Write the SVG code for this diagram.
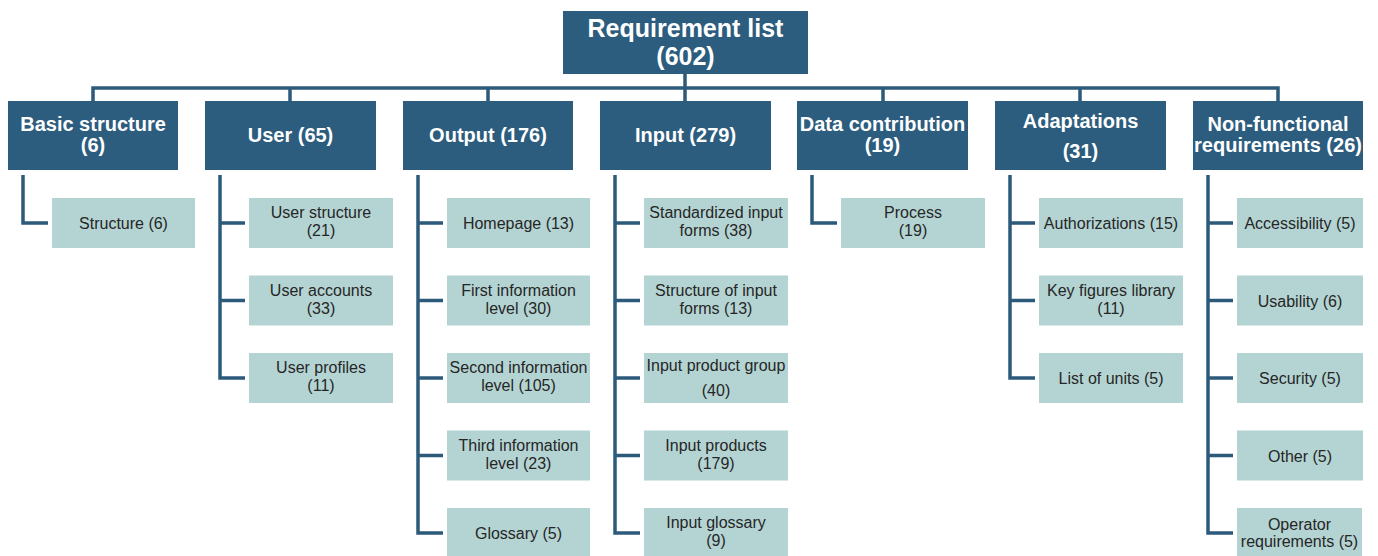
<svg xmlns="http://www.w3.org/2000/svg" width="1378" height="556" viewBox="0 0 1378 556">
<style>
.top{fill:#2c5c7e}
.sub{fill:#b4d4d3}
.t1{font-family:"Liberation Sans",Arial,sans-serif;font-weight:bold;fill:#ffffff;text-anchor:middle}
.t2{font-family:"Liberation Sans",Arial,sans-serif;font-size:16px;fill:#262626;text-anchor:middle}
.ln{stroke:#2c5a7a;stroke-width:3.5;fill:none}
</style>
<rect width="1378" height="556" fill="#ffffff"/>
<g id="connectors">
<path class="ln" d="M93 101V88H1278V101M290 88V101M488 88V101M685 74V101M883 88V101M1080 88V101"/>
<path class="ln" d="M23 175V223H48"/>
<path class="ln" d="M220 175V378H245M220 223H245M220 300.5H245"/>
<path class="ln" d="M418 175V533H443M418 223H443M418 300.5H443M418 378H443M418 455.5H443"/>
<path class="ln" d="M615 175V533H640M615 223H640M615 300.5H640M615 378H640M615 455.5H640"/>
<path class="ln" d="M812 175V223H837"/>
<path class="ln" d="M1010 175V378H1035M1010 223H1035M1010 300.5H1035"/>
<path class="ln" d="M1208 175V533H1233M1208 223H1233M1208 300.5H1233M1208 378H1233M1208 455.5H1233"/>
</g>
<g id="root"><rect class="top" x="563" y="11" width="245" height="63"/><text class="t1" font-size="25" x="685.5" y="36.5">Requirement list</text><text class="t1" font-size="25" x="685.5" y="64.5">(602)</text></g>
<g id="basic"><rect class="top" x="8" y="101" width="170" height="69"/><text class="t1" font-size="20" x="93" y="131">Basic structure</text><text class="t1" font-size="20" x="93" y="152">(6)</text></g>
<g id="user"><rect class="top" x="205" y="101" width="171" height="69"/><text class="t1" font-size="20" x="290.5" y="142">User (65)</text></g>
<g id="output"><rect class="top" x="403" y="101" width="170" height="69"/><text class="t1" font-size="20" x="488" y="142">Output (176)</text></g>
<g id="input"><rect class="top" x="600" y="101" width="171" height="69"/><text class="t1" font-size="20" x="685.5" y="142">Input (279)</text></g>
<g id="data"><rect class="top" x="797" y="101" width="171" height="69"/><text class="t1" font-size="20" x="882.5" y="131">Data contribution</text><text class="t1" font-size="20" x="882.5" y="152">(19)</text></g>
<g id="adapt"><rect class="top" x="995" y="101" width="171" height="69"/><text class="t1" font-size="20" x="1080.5" y="128">Adaptations</text><text class="t1" font-size="20" x="1080.5" y="158">(31)</text></g>
<g id="nonfunc"><rect class="top" x="1193" y="101" width="170" height="69"/><text class="t1" font-size="20" x="1278" y="131">Non-functional</text><text class="t1" font-size="20" x="1278" y="152">requirements (26)</text></g>

<g id="structure"><rect class="sub" x="52" y="198" width="143" height="50"/><text class="t2" x="123.5" y="229">Structure (6)</text></g>

<g id="userstructure"><rect class="sub" x="249" y="198" width="144" height="50"/><text class="t2" x="321" y="218">User structure</text><text class="t2" x="321" y="236">(21)</text></g>
<g id="useraccounts"><rect class="sub" x="249" y="275.5" width="144" height="50"/><text class="t2" x="321" y="295.5">User accounts</text><text class="t2" x="321" y="313.5">(33)</text></g>
<g id="userprofiles"><rect class="sub" x="249" y="353" width="144" height="50"/><text class="t2" x="321" y="373">User profiles</text><text class="t2" x="321" y="391">(11)</text></g>

<g id="homepage"><rect class="sub" x="447" y="198" width="143" height="50"/><text class="t2" x="518.5" y="229">Homepage (13)</text></g>
<g id="firstinfo"><rect class="sub" x="447" y="275.5" width="143" height="50"/><text class="t2" x="518.5" y="295.5">First information</text><text class="t2" x="518.5" y="313.5">level (30)</text></g>
<g id="secondinfo"><rect class="sub" x="447" y="353" width="143" height="50"/><text class="t2" x="518.5" y="373">Second information</text><text class="t2" x="518.5" y="391">level (105)</text></g>
<g id="thirdinfo"><rect class="sub" x="447" y="430.5" width="143" height="50"/><text class="t2" x="518.5" y="450.5">Third information</text><text class="t2" x="518.5" y="468.5">level (23)</text></g>
<g id="glossary"><rect class="sub" x="447" y="508" width="143" height="50"/><text class="t2" x="518.5" y="539">Glossary (5)</text></g>

<g id="stdforms"><rect class="sub" x="644" y="198" width="144" height="50"/><text class="t2" x="716" y="218">Standardized input</text><text class="t2" x="716" y="236">forms (38)</text></g>
<g id="structforms"><rect class="sub" x="644" y="275.5" width="144" height="50"/><text class="t2" x="716" y="295.5">Structure of input</text><text class="t2" x="716" y="313.5">forms (13)</text></g>
<g id="prodgroup"><rect class="sub" x="644" y="353" width="144" height="50"/><text class="t2" x="716" y="371">Input product group</text><text class="t2" x="716" y="396">(40)</text></g>
<g id="products"><rect class="sub" x="644" y="430.5" width="144" height="50"/><text class="t2" x="716" y="450.5">Input products</text><text class="t2" x="716" y="468.5">(179)</text></g>
<g id="inglossary"><rect class="sub" x="644" y="508" width="144" height="50"/><text class="t2" x="716" y="528">Input glossary</text><text class="t2" x="716" y="546">(9)</text></g>

<g id="process"><rect class="sub" x="841" y="198" width="144" height="50"/><text class="t2" x="913" y="218">Process</text><text class="t2" x="913" y="236">(19)</text></g>

<g id="auth"><rect class="sub" x="1039" y="198" width="144" height="50"/><text class="t2" x="1111" y="229">Authorizations (15)</text></g>
<g id="keyfig"><rect class="sub" x="1039" y="275.5" width="144" height="50"/><text class="t2" x="1111" y="295.5">Key figures library</text><text class="t2" x="1111" y="313.5">(11)</text></g>
<g id="units"><rect class="sub" x="1039" y="353" width="144" height="50"/><text class="t2" x="1111" y="384">List of units (5)</text></g>

<g id="access"><rect class="sub" x="1237" y="198" width="126" height="50"/><text class="t2" x="1300" y="229">Accessibility (5)</text></g>
<g id="usab"><rect class="sub" x="1237" y="275.5" width="126" height="50"/><text class="t2" x="1300" y="306.5">Usability (6)</text></g>
<g id="security"><rect class="sub" x="1237" y="353" width="126" height="50"/><text class="t2" x="1300" y="384">Security (5)</text></g>
<g id="other"><rect class="sub" x="1237" y="430.5" width="126" height="50"/><text class="t2" x="1300" y="461.5">Other (5)</text></g>
<g id="operator"><rect class="sub" x="1237" y="508" width="125" height="50"/><text class="t2" x="1299.5" y="530">Operator</text><text class="t2" x="1299.5" y="547">requirements (5)</text></g>
</svg>
